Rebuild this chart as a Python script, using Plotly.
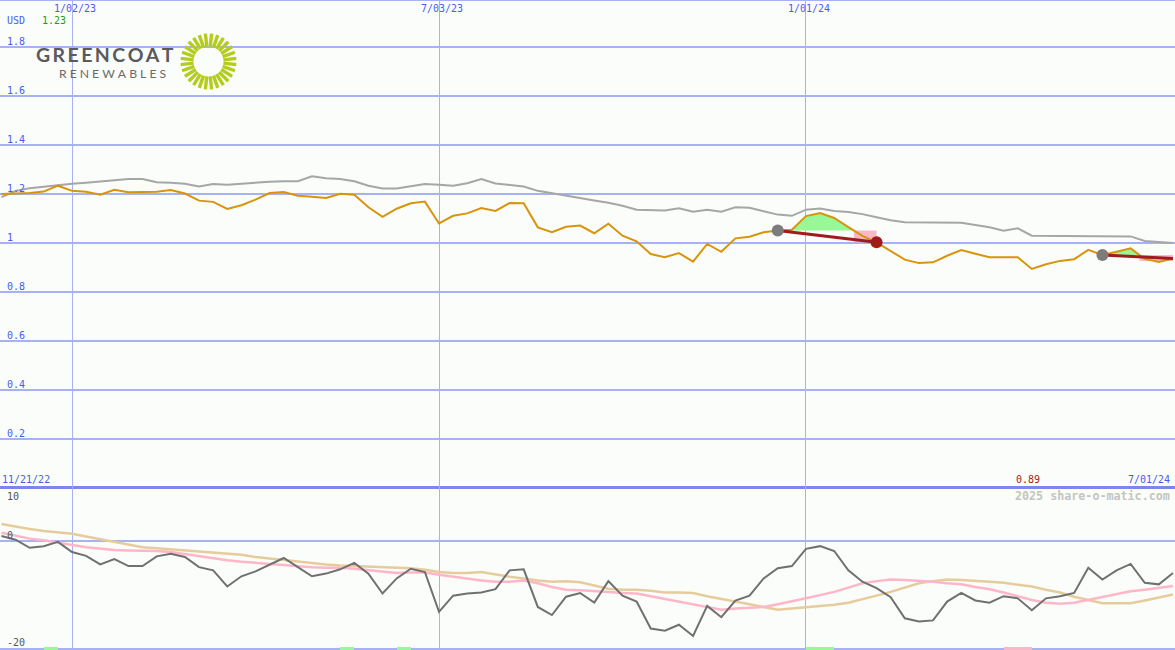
import math
import numpy as np
import pandas as pd
import plotly.graph_objects as go

# ---------------- data ----------------
dates = pd.date_range("2022-11-28", periods=84, freq="7D")

price = [1.198, 1.200, 1.202, 1.208, 1.232, 1.211, 1.207, 1.195, 1.215, 1.205,
         1.205, 1.207, 1.214, 1.200, 1.171, 1.166, 1.137, 1.152, 1.175, 1.202,
         1.206, 1.191, 1.187, 1.182, 1.199, 1.195, 1.144, 1.105, 1.138, 1.160,
         1.167, 1.078, 1.109, 1.119, 1.141, 1.129, 1.161, 1.160, 1.062, 1.042,
         1.064, 1.069, 1.038, 1.077, 1.028, 1.005, 0.953, 0.940, 0.957, 0.922,
         0.994, 0.962, 1.017, 1.024, 1.042, 1.049, 1.052, 1.108, 1.120, 1.100,
         1.063, 1.027, 1.001, 0.966, 0.930, 0.916, 0.919, 0.946, 0.969, 0.954,
         0.940, 0.940, 0.940, 0.892, 0.911, 0.925, 0.932, 0.970, 0.949, 0.962,
         0.976, 0.933, 0.921, 0.935]

benchmark = [1.185, 1.210, 1.222, 1.229, 1.236, 1.240, 1.244, 1.248, 1.254, 1.259,
             1.259, 1.246, 1.244, 1.240, 1.229, 1.239, 1.236, 1.240, 1.246, 1.248,
             1.250, 1.250, 1.270, 1.262, 1.259, 1.250, 1.232, 1.221, 1.221, 1.231,
             1.239, 1.236, 1.232, 1.242, 1.259, 1.241, 1.235, 1.229, 1.211, 1.202,
             1.191, 1.182, 1.172, 1.162, 1.150, 1.134, 1.131, 1.131, 1.140, 1.126,
             1.134, 1.126, 1.144, 1.142, 1.128, 1.114, 1.109, 1.134, 1.139, 1.129,
             1.125, 1.116, 1.103, 1.091, 1.083, 1.082, 1.081, 1.080, 1.081, 1.072,
             1.062, 1.048, 1.058, 1.028, 1.028, 1.028, 1.028, 1.028, 1.028, 1.028,
             1.025, 1.006, 1.001, 0.998]

momentum = [1.0, 0.3, -1.2, -0.9, -0.1, -2.0, -2.7, -4.3, -3.3, -4.6,
            -4.6, -2.8, -2.3, -2.9, -4.8, -5.4, -8.4, -6.5, -5.6, -4.3,
            -3.1, -4.8, -6.5, -6.0, -5.2, -4.0, -6.0, -9.7, -6.9, -5.1,
            -5.7, -13.1, -10.1, -9.7, -9.5, -8.9, -5.4, -5.2, -12.2, -13.7,
            -10.3, -9.6, -11.4, -7.4, -10.1, -11.2, -16.2, -16.6, -15.5, -17.6,
            -12.0, -14.1, -11.0, -10.1, -6.9, -5.0, -4.6, -1.4, -0.9, -1.8,
            -5.4, -7.5, -8.7, -10.4, -14.3, -14.9, -14.7, -11.2, -9.6, -11.0,
            -11.4, -10.2, -10.6, -12.8, -10.6, -10.2, -9.6, -4.9, -7.1, -5.4,
            -4.2, -7.7, -8.0, -5.9]

momentum_fast = [1.6, 1.0, 0.5, 0.2, -0.3, -0.7, -1.1, -1.4, -1.6, -1.7,
                 -1.7, -1.8, -2.0, -2.4, -2.8, -3.2, -3.5, -3.8, -4.0, -4.3,
                 -4.5, -4.6, -4.8, -4.9, -4.9, -5.1, -5.4, -5.6, -5.9, -5.8,
                 -5.8, -6.2, -6.6, -6.9, -7.3, -7.5, -7.5, -7.3, -7.8, -8.5,
                 -9.0, -9.1, -9.2, -9.4, -9.6, -9.7, -10.2, -10.7, -11.1, -11.6,
                 -12.2, -12.7, -12.5, -12.3, -12.2, -11.7, -11.2, -10.6, -10.0, -9.4,
                 -8.6, -7.8, -7.4, -7.1, -7.2, -7.3, -7.5, -7.8, -8.0, -8.5,
                 -8.9, -9.5, -10.2, -10.9, -11.4, -11.6, -11.4, -10.9, -10.4, -9.9,
                 -9.3, -9.0, -8.7, -8.3]

momentum_slow = [3.2, 2.7, 2.3, 1.9, 1.6, 1.4, 0.9, 0.4, -0.1, -0.6,
                 -1.1, -1.3, -1.5, -1.6, -1.8, -2.0, -2.2, -2.5, -2.9, -3.2,
                 -3.5, -3.8, -4.1, -4.3, -4.5, -4.6, -4.7, -4.7, -4.8, -5.0,
                 -5.3, -5.7, -5.9, -5.9, -5.7, -6.2, -6.6, -6.9, -7.3, -7.5,
                 -7.4, -7.6, -8.2, -8.8, -9.0, -9.0, -9.2, -9.5, -9.5, -9.6,
                 -10.2, -10.7, -11.1, -11.6, -12.1, -12.7, -12.5, -12.3, -12.1, -11.8,
                 -11.4, -10.8, -10.1, -9.4, -8.6, -7.8, -7.4, -7.1, -7.2, -7.3,
                 -7.5, -7.7, -8.1, -8.4, -9.0, -9.5, -10.3, -10.9, -11.5, -11.5,
                 -11.5, -11.0, -10.5, -9.9]

# trades: entry index, exit index, closed?, loss-zone floor
trade_entry = [55, 78]
trade_exit = [62, 83]
trade_closed = [True, False]
trade_floor = [1.001, 0.925]

# signal bars at the bottom: start index, end index, kind
signal_start = [3, 24, 28, 57, 71]
signal_end = [4, 25, 29, 59, 73]
signal_kind = ["buy", "buy", "buy", "buy", "sell"]

y_ticks_top = [0.2, 0.4, 0.6, 0.8, 1.0, 1.2, 1.4, 1.6, 1.8]
y_ticktext_top = ["0.2", "0.4", "0.6", "0.8", "1", "1.2", "1.4", "1.6", "1.8"]
y_ticks_low = [0, -20]
y_ticktext_low = ["0", "-20"]
x_ticks = ["2023-01-02", "2023-07-03", "2024-01-01"]
x_ticktext = ["1/02/23", "7/03/23", "1/01/24"]

# ---------------- styling ----------------
BG = "#fbfdfa"
GRID = "#a6b2f4"
SEP = "#7a88ec"
BLUE = "#4a5cf0"
MONO = "DejaVu Sans Mono"
FS = 10
W, H = 1175, 650

fig = go.Figure()


def crossing_date(i0, level):
    for j in range(i0 + 1, len(price)):
        if price[j] < level <= price[j - 1]:
            t = (price[j - 1] - level) / (price[j - 1] - price[j])
            return j - 1, dates[j - 1] + t * (dates[j] - dates[j - 1])
    return len(price) - 1, dates[-1]


# trade zones (fills under the lines)
for e, x_, floor in zip(trade_entry, trade_exit, trade_floor):
    level = price[e]
    jlast, cdate = crossing_date(e, level)
    gx = list(dates[e:jlast + 1]) + [cdate, dates[e]]
    gy = [max(p, level) for p in price[e:jlast + 1]] + [level, level]
    fig.add_trace(go.Scatter(x=gx, y=gy, fill="toself", fillcolor="#98f898",
                             line=dict(width=0), mode="lines", hoverinfo="skip",
                             xaxis="x", yaxis="y"))
    px_ = [cdate, dates[x_], dates[x_], cdate, cdate]
    py_ = [level, level, floor, floor, level]
    fig.add_trace(go.Scatter(x=px_, y=py_, fill="toself", fillcolor="#f8b8c8",
                             line=dict(width=0), mode="lines", hoverinfo="skip",
                             xaxis="x", yaxis="y"))

# benchmark & price
fig.add_trace(go.Scatter(x=dates, y=benchmark, mode="lines",
                         line=dict(color="#a6a6a6", width=2), xaxis="x", yaxis="y"))
fig.add_trace(go.Scatter(x=dates, y=price, mode="lines",
                         line=dict(color="#d8940c", width=2), xaxis="x", yaxis="y"))

# trade lines and markers
for e, x_, closed in zip(trade_entry, trade_exit, trade_closed):
    fig.add_trace(go.Scatter(x=[dates[e], dates[x_]], y=[price[e], price[x_]],
                             mode="lines", line=dict(color="#a01c1c", width=3),
                             xaxis="x", yaxis="y"))
    fig.add_trace(go.Scatter(x=[dates[e]], y=[price[e]], mode="markers",
                             marker=dict(color="#7c7c7c", size=12, line=dict(width=0)),
                             xaxis="x", yaxis="y"))
    if closed:
        fig.add_trace(go.Scatter(x=[dates[x_]], y=[price[x_]], mode="markers",
                                 marker=dict(color="#a01c1c", size=12, line=dict(width=0)),
                                 xaxis="x", yaxis="y"))

# lower panel
fig.add_trace(go.Scatter(x=dates, y=momentum_slow, mode="lines",
                         line=dict(color="#e6cc9c", width=2.5), xaxis="x2", yaxis="y2"))
fig.add_trace(go.Scatter(x=dates, y=momentum_fast, mode="lines",
                         line=dict(color="#ffb6c8", width=2.5), xaxis="x2", yaxis="y2"))
fig.add_trace(go.Scatter(x=dates, y=momentum, mode="lines",
                         line=dict(color="#707070", width=2), xaxis="x2", yaxis="y2"))

# signal bars
for s, e, k in zip(signal_start, signal_end, signal_kind):
    d0, d1 = dates[s], dates[e]
    fig.add_trace(go.Bar(x=[d0 + (d1 - d0) / 2], y=[0.6], base=[-20.2],
                         width=[(d1 - d0).total_seconds() * 1000],
                         marker=dict(color="#98f898" if k == "buy" else "#f8b8c8",
                                     line=dict(width=0)),
                         xaxis="x2", yaxis="y2"))

xrange = ["2022-11-27 07:00", "2024-07-02"]

fig.update_layout(
    width=W, height=H, margin=dict(l=0, r=0, t=0, b=0),
    paper_bgcolor=BG, plot_bgcolor=BG, showlegend=False,
    font=dict(family=MONO, size=FS, color=BLUE),
    xaxis=dict(domain=[0, 1], range=xrange, type="date", anchor="y",
               tickvals=x_ticks, showticklabels=False, ticks="", showgrid=True,
               gridcolor=GRID, gridwidth=1, zeroline=False, showline=False),
    yaxis=dict(domain=[0.25, 1], range=[0, 1.99], tickvals=y_ticks_top,
               showticklabels=False, ticks="", showgrid=True, gridcolor=GRID,
               gridwidth=2, zeroline=False, showline=False, anchor="x"),
    xaxis2=dict(domain=[0, 1], range=xrange, type="date", anchor="y2",
                matches="x", tickvals=x_ticks, showticklabels=False, ticks="",
                showgrid=True, gridcolor=GRID, gridwidth=1, zeroline=False,
                showline=False),
    yaxis2=dict(domain=[0, 0.25], range=[-20.2, 10], tickvals=y_ticks_low,
                showticklabels=False, ticks="", showgrid=True, gridcolor=GRID,
                gridwidth=2, zeroline=False, showline=False, anchor="x2"),
    bargap=0,
)

# separator and top border
fig.add_shape(type="line", xref="paper", yref="paper", x0=0, x1=1, y0=0.25, y1=0.25,
              line=dict(color=SEP, width=3), layer="below")
fig.add_shape(type="line", xref="paper", yref="paper", x0=0, x1=1, y0=1, y1=1,
              line=dict(color=GRID, width=2), layer="below")


def txt(xp, yp, text, anchor, color, size=FS, family=MONO):
    return dict(x=xp / W, y=1 - yp / H, xref="paper", yref="paper", text=text,
                showarrow=False, xanchor=anchor, yanchor="middle",
                font=dict(family=family, size=size, color=color))


ann = []
# axis tick labels (placed through the axes' own scales)
for v, t in zip(y_ticks_top, y_ticktext_top):
    ann.append(dict(x=5 / W, xref="paper", y=v, yref="y", text=t, showarrow=False,
                    xanchor="left", yanchor="middle", yshift=5,
                    font=dict(family=MONO, size=FS, color=BLUE)))
for v, t in zip(y_ticks_low, y_ticktext_low):
    ann.append(dict(x=5 / W, xref="paper", y=v, yref="y2", text=t, showarrow=False,
                    xanchor="left", yanchor="middle", yshift=6,
                    font=dict(family=MONO, size=FS, color="#555555")))
for d, t in zip(x_ticks, x_ticktext):
    ann.append(dict(x=d, xref="x", y=1 - 9 / H, yref="paper", text=t,
                    showarrow=False, xanchor="center", yanchor="middle", xshift=3,
                    font=dict(family=MONO, size=FS, color=BLUE)))
ann += [
    txt(5, 21, "USD", "left", BLUE),
    txt(40, 21, "1.23", "left", "#1a9a1a"),
    txt(0, 479, "11/21/22", "left", BLUE),
    txt(1172, 479, "7/01/24", "right", BLUE),
    txt(1028, 479, "0.89", "center", "#a01c1c"),
    txt(1172, 496, "<b>2025 share-o-matic.com</b>", "right", "#c4c4c4", size=11.7),
    txt(5, 496, "10", "left", "#555555"),
]
sp = "\u2009"
ann.append(txt(34, 54.5, "<b>" + sp.join("GREENCOAT") + "</b>", "left", "#5a5a5c",
               size=19.5, family="Lato"))
ann.append(txt(57, 73, (sp * 2).join("RENEWABLES"), "left", "#6a6a6a",
               size=12.2, family="Lato"))
fig.update_layout(annotations=ann)

# logo sunburst
cx, cy, r0, r1, nray = 208.5, 61.5, 15, 28, 28
for k in range(nray):
    a = 2 * math.pi * (k + 0.5) / nray
    x0 = cx + r0 * math.cos(a)
    y0 = cy + r0 * math.sin(a)
    x1 = cx + r1 * math.cos(a)
    y1 = cy + r1 * math.sin(a)
    fig.add_shape(type="line", xref="paper", yref="paper",
                  x0=x0 / W, x1=x1 / W, y0=1 - y0 / H, y1=1 - y1 / H,
                  line=dict(color="#b4cc1e", width=3.4))

fig.write_html("out.html", config={"displayModeBar": False},
               post_script="document.body.style.margin='0';")
